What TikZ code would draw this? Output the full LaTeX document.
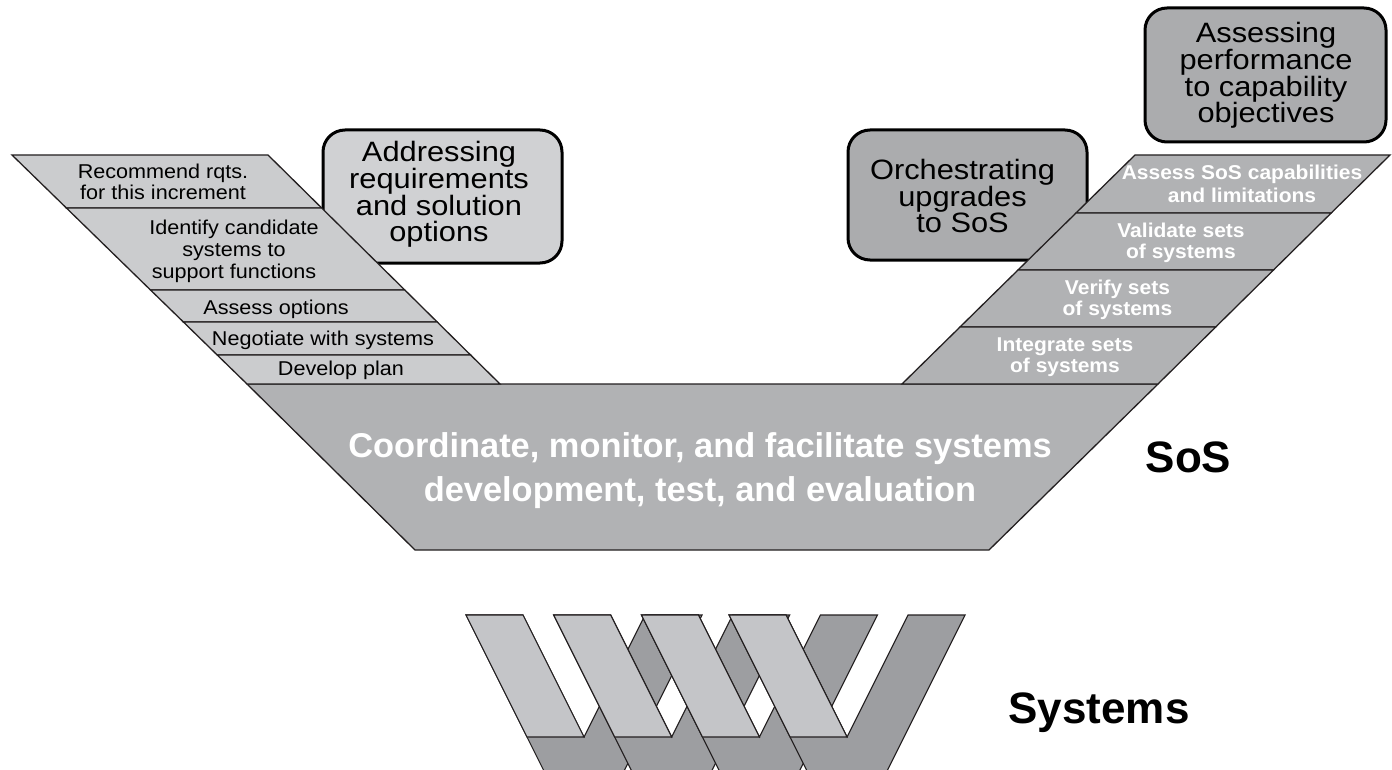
\documentclass[tikz,border=0pt]{standalone}
\usepackage{fontspec}
\setmainfont{Liberation Sans}
\newfontfamily\fA[FakeStretch=1.1]{Liberation Sans}
\newfontfamily\fB[FakeStretch=1.08]{Liberation Sans}
\newfontfamily\fC[FakeStretch=1.05]{Liberation Sans}
\newfontfamily\fD{Liberation Sans}
\definecolor{lgray}{HTML}{CBCCCE}
\definecolor{mgray}{HTML}{B1B2B4}
\definecolor{cgray}{HTML}{D0D1D3}
\definecolor{dgray}{HTML}{ABACAE}
\definecolor{wlight}{HTML}{C4C5C8}
\definecolor{wdark}{HTML}{9D9EA1}
\definecolor{ink}{HTML}{231F20}
\begin{document}
\begin{tikzpicture}[x=1pt,y=-1pt,
  stackline/.style={draw=ink, line width=1.3pt, line join=miter},
  lband/.style={stackline, fill=lgray},
  rband/.style={stackline, fill=mgray},
  callout/.style={draw=black, line width=3pt, rounded corners=22pt},
  wline/.style={draw=ink, line width=1.1pt, line join=miter},
  ltext/.style={anchor=base, inner sep=0pt, font=\fB\fontsize{20}{21}\selectfont},
  rtext/.style={anchor=base, inner sep=0pt, text=white, font=\fC\bfseries\fontsize{20}{21}\selectfont},
  ctext/.style={anchor=base, inner sep=0pt, font=\fA\fontsize{28}{28}\selectfont},
  mtext/.style={anchor=base, inner sep=0pt, text=white, font=\fD\bfseries\fontsize{34.4}{36}\selectfont},
  btext/.style={anchor=base, inner sep=0pt, font=\fD\bfseries\fontsize{44}{46}\selectfont}
]
\useasboundingbox (0,0) rectangle (1392,770);

% callout boxes (behind the stacks)
\draw[callout, fill=cgray] (323,130) rectangle (562,263);
\draw[callout, fill=dgray] (848,130) rectangle (1087,260);
\draw[callout, fill=dgray] (1145,8) rectangle (1386,142);

% central trapezoid
\draw[rband] (247,384)--(1158,384)--(989,550)--(415,550)--cycle;

% left stack
\draw[lband] (12,155)--(268,155)--(321.7,208)--(66.4,208)--cycle;
\draw[lband] (66.4,208)--(321.7,208)--(404.8,290)--(150.5,290)--cycle;
\draw[lband] (150.5,290)--(404.8,290)--(437.2,322)--(183.4,322)--cycle;
\draw[lband] (183.4,322)--(437.2,322)--(470.6,355)--(217.2,355)--cycle;
\draw[lband] (217.2,355)--(470.6,355)--(500,384)--(247,384)--cycle;

% right stack
\draw[rband] (1135,155)--(1390,155)--(1331.2,213)--(1076,213)--cycle;
\draw[rband] (1076,213)--(1331.2,213)--(1273.5,270)--(1018,270)--cycle;
\draw[rband] (1018,270)--(1273.5,270)--(1215.7,327)--(960,327)--cycle;
\draw[rband] (960,327)--(1215.7,327)--(1158,384)--(902,384)--cycle;

% systems weave
\begin{scope}
\clip (0,0) rectangle (1392,770);
\foreach \o in {0,87.7,175.4,263.1}{
  \draw[wline, fill=wdark] (466+\o,615)--(523+\o,615)--(584+\o,737)--(645+\o,615)
     --(702+\o,615)--(584+\o,851)--cycle;
  \draw[wline, fill=wlight] (466+\o,615)--(523+\o,615)--(584+\o,737)--(527+\o,737)--cycle;
}
\end{scope}

% callout texts
\node[ctext] (a1) at (439,162) {Addressing};
\node[ctext] (a2) at (439,188.5) {requirements};
\node[ctext] (a3) at (439,215) {and solution};
\node[ctext] (a4) at (439,241.5) {options};
\node[ctext] (o1) at (962.5,180) {Orchestrating};
\node[ctext] (o2) at (962.5,206.5) {upgrades};
\node[ctext] (o3) at (962.5,233) {to SoS};
\node[ctext] (p1) at (1266,43) {Assessing};
\node[ctext] (p2) at (1266,69.7) {performance};
\node[ctext] (p3) at (1266,96.3) {to capability};
\node[ctext] (p4) at (1266,123) {objectives};

% left stack texts
\node[ltext] (l1) at (163,179) {Recommend rqts.};
\node[ltext] (l2) at (163,199.5) {for this increment};
\node[ltext] (l3) at (234,235) {Identify candidate};
\node[ltext] (l4) at (234,256.5) {systems to};
\node[ltext] (l5) at (234,278) {support functions};
\node[ltext] (l6) at (276,314) {Assess options};
\node[ltext] (l7) at (323,345) {Negotiate with systems};
\node[ltext] (l8) at (341,375) {Develop plan};

% right stack texts
\node[rtext] (r1) at (1242,180) {Assess SoS capabilities};
\node[rtext] (r2) at (1242,203) {and limitations};
\node[rtext] (r3) at (1181,237) {Validate sets};
\node[rtext] (r4) at (1181,258.5) {of systems};
\node[rtext] (r5) at (1117.5,294) {Verify sets};
\node[rtext] (r6) at (1117.5,315.5) {of systems};
\node[rtext] (r7) at (1065,351) {Integrate sets};
\node[rtext] (r8) at (1065,372) {of systems};

% main text
\node[mtext] (m1) at (700,457) {Coordinate, monitor, and facilitate systems};
\node[mtext] (m2) at (700,501) {development, test, and evaluation};

% level labels
\node[btext] (sos) at (1188.5,472) {SoS};
\node[btext] (sys) at (1099,723) {Systems};
\end{tikzpicture}
\end{document}
